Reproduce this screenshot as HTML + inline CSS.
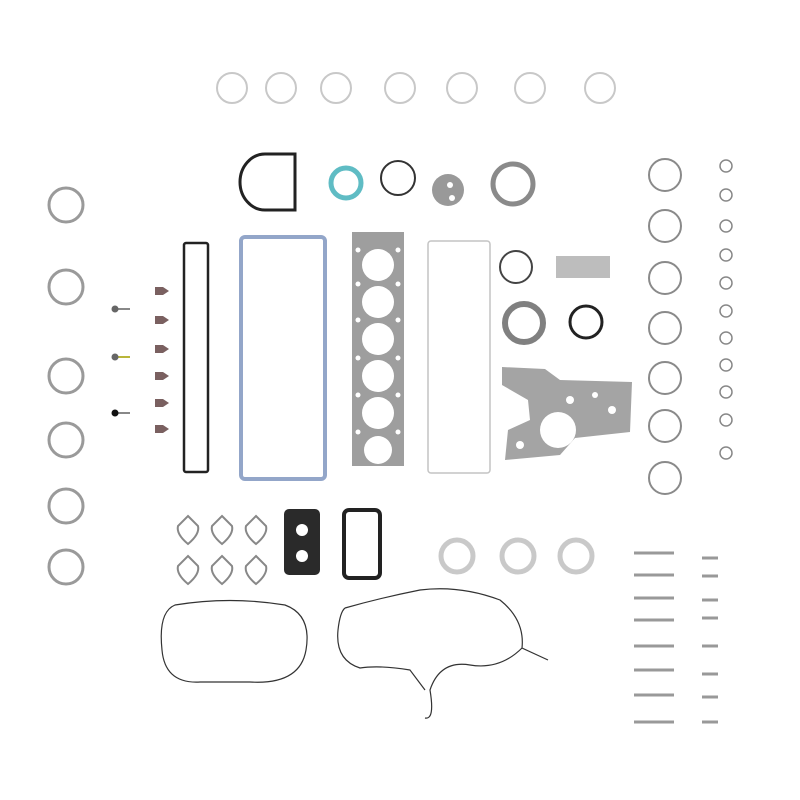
<!DOCTYPE html>
<html><head><meta charset="utf-8"><style>html,body{margin:0;padding:0;background:#fff}svg{display:block}</style></head>
<body>
<svg width="800" height="800" viewBox="0 0 800 800" xmlns="http://www.w3.org/2000/svg">
<g fill="none" stroke="#c8c8c8" stroke-width="2">
<circle cx="232" cy="88" r="15"/><circle cx="281" cy="88" r="15"/><circle cx="336" cy="88" r="15"/><circle cx="400" cy="88" r="15"/><circle cx="462" cy="88" r="15"/><circle cx="530" cy="88" r="15"/><circle cx="600" cy="88" r="15"/>
</g>
<g fill="none" stroke="#9a9a9a" stroke-width="3">
<circle cx="66" cy="205" r="17"/><circle cx="66" cy="287" r="17"/><circle cx="66" cy="376" r="17"/><circle cx="66" cy="440" r="17"/><circle cx="66" cy="506" r="17"/><circle cx="66" cy="567" r="17"/>
</g>
<g fill="none" stroke="#8a8a8a" stroke-width="2">
<circle cx="665" cy="175" r="16"/><circle cx="665" cy="226" r="16"/><circle cx="665" cy="278" r="16"/><circle cx="665" cy="328" r="16"/><circle cx="665" cy="378" r="16"/><circle cx="665" cy="426" r="16"/><circle cx="665" cy="478" r="16"/>
</g>
<g fill="none" stroke="#888" stroke-width="1.5">
<circle cx="726" cy="166" r="6"/><circle cx="726" cy="195" r="6"/><circle cx="726" cy="226" r="6"/><circle cx="726" cy="255" r="6"/><circle cx="726" cy="283" r="6"/><circle cx="726" cy="311" r="6"/><circle cx="726" cy="338" r="6"/><circle cx="726" cy="365" r="6"/><circle cx="726" cy="392" r="6"/><circle cx="726" cy="420" r="6"/><circle cx="726" cy="453" r="6"/>
</g>
<path d="M295,154 L265,154 A25,28 0 0 0 265,210 L295,210 Z" fill="none" stroke="#222" stroke-width="3"/>
<circle cx="346" cy="183" r="15" fill="none" stroke="#5fbcc4" stroke-width="5"/>
<circle cx="398" cy="178" r="17" fill="none" stroke="#333" stroke-width="2"/>
<circle cx="448" cy="190" r="16" fill="#999"/><circle cx="450" cy="185" r="3" fill="#fff"/><circle cx="452" cy="198" r="3" fill="#fff"/>
<circle cx="513" cy="184" r="20" fill="none" stroke="#8a8a8a" stroke-width="5"/>
<rect x="184" y="243" width="24" height="229" fill="none" stroke="#222" stroke-width="2.5" rx="2"/>
<rect x="241" y="237" width="84" height="242" fill="none" stroke="#93a6c9" stroke-width="4" rx="4"/>
<rect x="352" y="232" width="52" height="234" fill="#9e9e9e"/>
<g fill="#fff"><circle cx="378" cy="265" r="16"/><circle cx="378" cy="302" r="16"/><circle cx="378" cy="339" r="16"/><circle cx="378" cy="376" r="16"/><circle cx="378" cy="413" r="16"/><circle cx="378" cy="450" r="14"/>
<circle cx="358" cy="250" r="2.5"/><circle cx="398" cy="250" r="2.5"/><circle cx="358" cy="284" r="2.5"/><circle cx="398" cy="284" r="2.5"/><circle cx="358" cy="320" r="2.5"/><circle cx="398" cy="320" r="2.5"/><circle cx="358" cy="358" r="2.5"/><circle cx="398" cy="358" r="2.5"/><circle cx="358" cy="395" r="2.5"/><circle cx="398" cy="395" r="2.5"/><circle cx="358" cy="432" r="2.5"/><circle cx="398" cy="432" r="2.5"/></g>
<rect x="428" y="241" width="62" height="232" fill="none" stroke="#c4c4c4" stroke-width="1.5" rx="3"/>
<circle cx="516" cy="267" r="16" fill="none" stroke="#444" stroke-width="2"/>
<rect x="556" y="256" width="54" height="22" fill="#bdbdbd"/>
<circle cx="524" cy="323" r="19" fill="none" stroke="#808080" stroke-width="6"/>
<circle cx="586" cy="322" r="16" fill="none" stroke="#222" stroke-width="3"/>
<path d="M502,367 L545,369 L560,380 L632,382 L630,432 L575,438 L560,455 L505,460 L508,430 L530,420 L528,400 L502,385 Z" fill="#a4a4a4"/>
<circle cx="558" cy="430" r="18" fill="#fff"/>
<g fill="#fff"><circle cx="570" cy="400" r="4"/><circle cx="595" cy="395" r="3"/><circle cx="612" cy="410" r="4"/><circle cx="520" cy="445" r="4"/></g>
<g fill="#7a6060"><path d="M155,287h8l6,4-6,4h-8z"/><path d="M155,316h8l6,4-6,4h-8z"/><path d="M155,345h8l6,4-6,4h-8z"/><path d="M155,372h8l6,4-6,4h-8z"/><path d="M155,399h8l6,4-6,4h-8z"/><path d="M155,425h8l6,4-6,4h-8z"/></g>
<g stroke="#888" stroke-width="2"><line x1="112" y1="309" x2="130" y2="309"/><line x1="112" y1="357" x2="130" y2="357" stroke="#b9b63a"/><line x1="112" y1="413" x2="130" y2="413"/></g>
<circle cx="115" cy="309" r="3.5" fill="#666"/><circle cx="115" cy="357" r="3.5" fill="#666"/><circle cx="115" cy="413" r="3.5" fill="#111"/>
<g fill="none" stroke="#888" stroke-width="2">
<path d="M188,516 L198,526 Q200,534 188,544 Q176,534 178,526 Z"/><path d="M222,516 L232,526 Q234,534 222,544 Q210,534 212,526 Z"/><path d="M256,516 L266,526 Q268,534 256,544 Q244,534 246,526 Z"/>
<path d="M188,556 L198,566 Q200,574 188,584 Q176,574 178,566 Z"/><path d="M222,556 L232,566 Q234,574 222,584 Q210,574 212,566 Z"/><path d="M256,556 L266,566 Q268,574 256,584 Q244,574 246,566 Z"/>
</g>
<rect x="284" y="509" width="36" height="66" rx="5" fill="#2a2a2a"/>
<circle cx="302" cy="530" r="6" fill="#fff"/><circle cx="302" cy="556" r="6" fill="#fff"/>
<rect x="344" y="510" width="36" height="68" rx="5" fill="none" stroke="#222" stroke-width="4"/>
<g fill="none" stroke="#c9c9c9" stroke-width="5"><circle cx="457" cy="556" r="16"/><circle cx="518" cy="556" r="16"/><circle cx="576" cy="556" r="16"/></g>
<g stroke="#999" stroke-width="3">
<line x1="634" y1="553" x2="674" y2="553"/><line x1="634" y1="575" x2="674" y2="575"/><line x1="634" y1="598" x2="674" y2="598"/><line x1="634" y1="620" x2="674" y2="620"/><line x1="634" y1="646" x2="674" y2="646"/><line x1="634" y1="670" x2="674" y2="670"/><line x1="634" y1="695" x2="674" y2="695"/><line x1="634" y1="722" x2="674" y2="722"/>
<line x1="702" y1="558" x2="718" y2="558"/><line x1="702" y1="576" x2="718" y2="576"/><line x1="702" y1="600" x2="718" y2="600"/><line x1="702" y1="618" x2="718" y2="618"/><line x1="702" y1="646" x2="718" y2="646"/><line x1="702" y1="674" x2="718" y2="674"/><line x1="702" y1="697" x2="718" y2="697"/><line x1="702" y1="722" x2="718" y2="722"/>
</g>
<path d="M175,605 Q230,596 285,605 Q312,615 306,650 Q300,685 250,682 L200,682 Q165,684 162,650 Q158,612 175,605 Z" fill="none" stroke="#333" stroke-width="1.2"/>
<path d="M345,608 Q380,598 420,590 Q460,585 500,600 Q525,620 522,648 L548,660 M522,648 Q500,670 470,665 Q440,660 430,690 Q435,720 425,718 M425,690 L410,670 Q380,665 360,668 Q335,660 338,630 Q340,612 345,608" fill="none" stroke="#333" stroke-width="1.2"/>
</svg>
</body></html>
